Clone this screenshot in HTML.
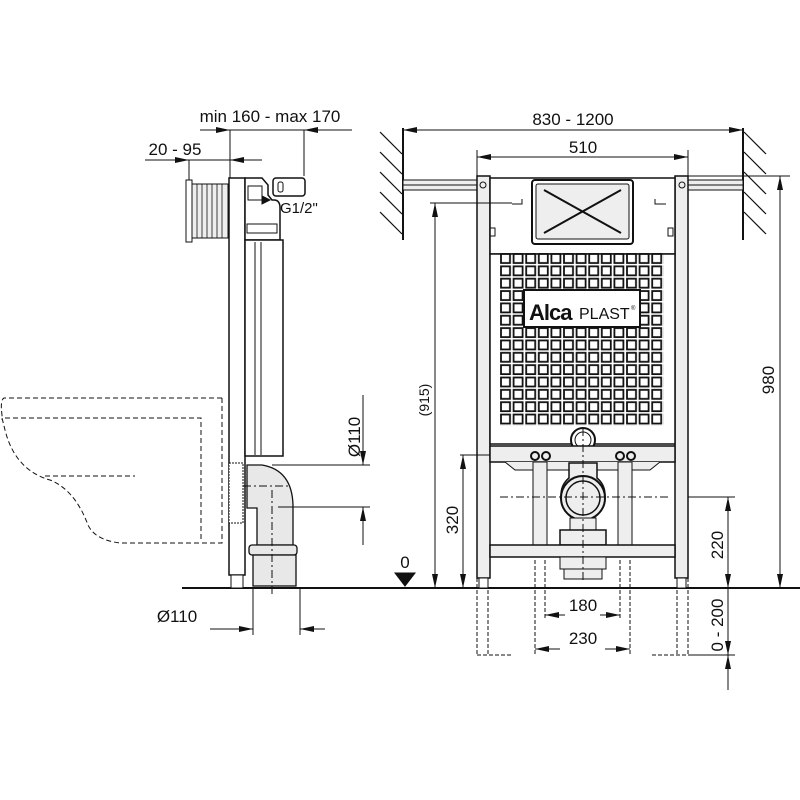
<!DOCTYPE html>
<html><head><meta charset="utf-8"><style>
body{margin:0;background:#fff}
svg{display:block}
text{font-family:"Liberation Sans",sans-serif;fill:#111}
</style></head><body>
<svg width="800" height="800" viewBox="0 0 800 800" xmlns="http://www.w3.org/2000/svg">
<defs>
<marker id="a" markerWidth="14" markerHeight="6" refX="14" refY="3" orient="auto" markerUnits="userSpaceOnUse"><path d="M0,0 L14,3 L0,6z" fill="#111"/></marker>
<pattern id="sq" x="500" y="253" width="12.6" height="12.35" patternUnits="userSpaceOnUse">
<rect x="1" y="1" width="9" height="9" fill="#fff" stroke="#111" stroke-width="1.8"/>
</pattern>
</defs>
<g stroke="#111" fill="none" stroke-width="1">
<line x1="182" y1="588" x2="800" y2="588" stroke-width="2"/>

<g stroke-dasharray="5,3" stroke-width="1">
<path d="M222,398 H4 Q0,400 2,415 V420 M222,398 V543 H120 Q95,540 88,525 Q75,490 50,480 Q15,470 5,430 L2,418"/>
<path d="M5,418 H201 V540"/>
<path d="M45,476 H135"/>
</g>
<rect x="186" y="180" width="6" height="62" fill="#fff"/>
<rect x="192" y="184" width="36" height="54" fill="#eee"/>
<g stroke-width="0.8"><line x1="197" y1="184" x2="197" y2="238"/><line x1="202" y1="184" x2="202" y2="238"/><line x1="207" y1="184" x2="207" y2="238"/><line x1="212" y1="184" x2="212" y2="238"/><line x1="217" y1="184" x2="217" y2="238"/><line x1="222" y1="184" x2="222" y2="238"/></g>
<rect x="229" y="178" width="16" height="397" fill="#fff" stroke-width="1.5"/>
<rect x="231" y="575" width="12" height="13" fill="#fff"/>
<path d="M245,178 H262 L268,185 V195 L272,200 H274 Q280,200 280,208 V240 H245z" fill="#fff" stroke-width="1.5"/>
<rect x="248" y="186" width="14" height="14" fill="#fff"/>
<rect x="247" y="224" width="30" height="9" fill="#fff"/>
<path d="M245,240 H283 V456 H245z" fill="#fff" stroke-width="1.5"/>
<line x1="255" y1="242" x2="255" y2="455"/><line x1="261" y1="242" x2="261" y2="455"/>
<rect x="273" y="178" width="32" height="18" rx="3" fill="#fff" stroke-width="1.5"/>
<rect x="278" y="182" width="5" height="10" rx="2"/>
<path d="M262,196 L270,200 L262,204z" fill="#111"/>
<rect x="229" y="463" width="14" height="60" fill="#fff" stroke-dasharray="2,1"/>
<path d="M247,465 H262 Q292,470 293,505 V545 H257 V508 H247z" fill="#e8e8e8" stroke-width="1.3"/>
<rect x="249" y="545" width="48" height="10" rx="3" fill="#e8e8e8" stroke-width="1.3"/>
<rect x="253" y="555" width="43" height="31" fill="#e8e8e8" stroke-width="1.3"/>
<line x1="243" y1="486" x2="290" y2="486" stroke-dasharray="8,3,2,3"/>
<line x1="272" y1="490" x2="272" y2="595" stroke-dasharray="8,3,2,3"/>
<line x1="230" y1="160" x2="230" y2="178"/><line x1="304" y1="130" x2="304" y2="176"/>
<line x1="230" y1="130" x2="230" y2="172"/>
<line x1="200" y1="130" x2="230" y2="130" marker-end="url(#a)"/>
<line x1="352" y1="130" x2="304" y2="130" marker-end="url(#a)"/>
<line x1="230" y1="130" x2="304" y2="130"/>
<line x1="145" y1="160" x2="189" y2="160" marker-end="url(#a)"/>
<line x1="262" y1="160" x2="230" y2="160" marker-end="url(#a)"/>
<line x1="189" y1="160" x2="230" y2="160"/><line x1="189" y1="160" x2="189" y2="180"/>
<line x1="272" y1="465" x2="370" y2="465"/><line x1="278" y1="507" x2="370" y2="507"/>
<line x1="363" y1="395" x2="363" y2="465" marker-end="url(#a)"/>
<line x1="363" y1="545" x2="363" y2="507" marker-end="url(#a)"/>
<line x1="253" y1="588" x2="253" y2="635"/><line x1="300" y1="588" x2="300" y2="635"/>
<line x1="210" y1="629" x2="253" y2="629" marker-end="url(#a)"/>
<line x1="325" y1="629" x2="300" y2="629" marker-end="url(#a)"/>

<line x1="403" y1="128" x2="403" y2="240" stroke-width="2"/>
<line x1="743" y1="128" x2="743" y2="240" stroke-width="2"/>
<g stroke-width="1.2">
<path d="M380,132 L402,154 M380,152 L402,174 M380,172 L402,194 M380,192 L402,214 M380,212 L402,234"/>
<path d="M744,132 L766,154 M744,152 L766,174 M744,172 L766,194 M744,192 L766,214 M744,212 L766,234"/>
</g>
<rect x="403" y="180" width="74" height="10" fill="#eee"/>
<line x1="403" y1="185" x2="477" y2="185"/>
<rect x="688" y="180" width="55" height="10" fill="#eee"/>
<line x1="688" y1="185" x2="743" y2="185"/>
<rect x="477" y="176" width="13" height="402" fill="#eee" stroke-width="1.5"/>
<rect x="675" y="176" width="13" height="402" fill="#eee" stroke-width="1.5"/>
<rect x="479" y="578" width="9" height="10" fill="#fff"/>
<rect x="677" y="578" width="9" height="10" fill="#fff"/>
<circle cx="483" cy="185" r="3"/><circle cx="682" cy="185" r="3"/>
<rect x="490" y="178" width="185" height="76" fill="#fff" stroke-width="1.5"/>
<rect x="532" y="180" width="101" height="64" rx="3" fill="#fff" stroke-width="2"/>
<rect x="536" y="184" width="93" height="55" rx="2" fill="#eee"/>
<path d="M544,190 L621,233 M621,190 L544,233" stroke-width="2"/>
<path d="M512,204 H522 V199 M655,199 V204 H666" />
<rect x="490" y="228" width="5" height="8"/><rect x="668" y="228" width="5" height="8"/>
<rect x="490" y="254" width="185" height="190" fill="#fff" stroke-width="1.5"/>
<rect x="500" y="253" width="163.8" height="172.9" fill="url(#sq)" stroke="none"/>
<rect x="524" y="290" width="116" height="37" fill="#fff" stroke-width="2"/>
<circle cx="583" cy="440" r="12" stroke-width="2" fill="#fff"/><circle cx="583" cy="440" r="8"/>
<rect x="490" y="446" width="185" height="16" fill="#eee" stroke-width="1.5"/>
<path d="M505,462 L515,470 H650 L660,462" fill="#eee"/>
<circle cx="535" cy="456" r="4" stroke-width="2"/><circle cx="546" cy="456" r="4" stroke-width="2"/>
<circle cx="620" cy="456" r="4" stroke-width="2"/><circle cx="631" cy="456" r="4" stroke-width="2"/>
<rect x="533" y="462" width="14" height="83" fill="#eee"/>
<rect x="618" y="462" width="14" height="83" fill="#eee"/>
<path d="M569,463 H597 V478 A22,22 0 1,1 569,478z" fill="#eee" stroke-width="1.5"/>
<circle cx="583" cy="498" r="22" fill="#eee" stroke-width="2"/>
<circle cx="583" cy="498" r="17" fill="#eee" stroke-width="1.5"/>
<rect x="570" y="518" width="26" height="12" fill="#eee"/>
<rect x="560" y="530" width="46" height="15" fill="#eee" stroke-width="1.5"/>
<rect x="490" y="545" width="185" height="12" fill="#eee" stroke-width="1.5"/>
<rect x="560" y="557" width="46" height="12" fill="#eee"/>
<rect x="564" y="569" width="38" height="10" fill="#eee"/>
<line x1="583" y1="428" x2="583" y2="580" stroke-dasharray="8,3,2,3"/>
<line x1="500" y1="497" x2="670" y2="497" stroke-dasharray="8,3,2,3"/>
<line x1="403" y1="130" x2="743" y2="130"/>
<line x1="440" y1="130" x2="403" y2="130" marker-end="url(#a)"/>
<line x1="706" y1="130" x2="743" y2="130" marker-end="url(#a)"/>
<line x1="477" y1="150" x2="477" y2="176"/><line x1="688" y1="150" x2="688" y2="176"/>
<line x1="477" y1="157" x2="688" y2="157"/>
<line x1="510" y1="157" x2="477" y2="157" marker-end="url(#a)"/>
<line x1="655" y1="157" x2="688" y2="157" marker-end="url(#a)"/>
<line x1="688" y1="176" x2="790" y2="176"/>
<line x1="780" y1="176" x2="780" y2="588"/>
<line x1="780" y1="210" x2="780" y2="176" marker-end="url(#a)"/>
<line x1="780" y1="555" x2="780" y2="588" marker-end="url(#a)"/>
<line x1="430" y1="203" x2="512" y2="203"/>
<line x1="435" y1="203" x2="435" y2="588"/>
<line x1="435" y1="240" x2="435" y2="203" marker-end="url(#a)"/>
<line x1="435" y1="555" x2="435" y2="588" marker-end="url(#a)"/>
<line x1="460" y1="455" x2="490" y2="455"/>
<line x1="463" y1="455" x2="463" y2="588"/>
<line x1="463" y1="490" x2="463" y2="455" marker-end="url(#a)"/>
<line x1="463" y1="555" x2="463" y2="588" marker-end="url(#a)"/>
<line x1="688" y1="497" x2="735" y2="497"/>
<line x1="728" y1="497" x2="728" y2="588"/>
<line x1="728" y1="530" x2="728" y2="497" marker-end="url(#a)"/>
<line x1="728" y1="555" x2="728" y2="588" marker-end="url(#a)"/>
<line x1="728" y1="588" x2="728" y2="690"/>
<line x1="688" y1="655" x2="735" y2="655"/>
<line x1="728" y1="620" x2="728" y2="655" marker-end="url(#a)"/>
<line x1="728" y1="688" x2="728" y2="655" marker-end="url(#a)"/>
<g stroke-dasharray="4,2">
<line x1="477" y1="578" x2="477" y2="655"/><line x1="488" y1="578" x2="488" y2="655"/>
<line x1="677" y1="578" x2="677" y2="655"/><line x1="688" y1="578" x2="688" y2="655"/>
<line x1="477" y1="655" x2="512" y2="655"/><line x1="652" y1="655" x2="688" y2="655"/>
<line x1="535" y1="560" x2="535" y2="655"/><line x1="545" y1="560" x2="545" y2="620"/>
<line x1="620" y1="560" x2="620" y2="620"/><line x1="630" y1="560" x2="630" y2="655"/>
</g>
<line x1="565" y1="615" x2="545" y2="615" marker-end="url(#a)"/>
<line x1="600" y1="615" x2="620" y2="615" marker-end="url(#a)"/>
<line x1="560" y1="649" x2="535" y2="649" marker-end="url(#a)"/>
<line x1="605" y1="649" x2="630" y2="649" marker-end="url(#a)"/>
<path d="M395,573 H415 L405,586z" fill="#111"/>
</g>
<text x="270" y="122" font-size="17" text-anchor="middle">min 160 - max 170</text>
<text x="175" y="155" font-size="17" text-anchor="middle">20 - 95</text>
<text x="280" y="213" font-size="15">G1/2"</text>
<text x="177" y="622" font-size="17" text-anchor="middle">Ø110</text>
<text transform="translate(360,437) rotate(-90)" font-size="17" text-anchor="middle">Ø110</text>
<text x="573" y="125" font-size="17" text-anchor="middle">830 - 1200</text>
<text x="583" y="153" font-size="17" text-anchor="middle">510</text>
<text x="405" y="568" font-size="17" text-anchor="middle">0</text>
<text transform="translate(429,400) rotate(-90)" font-size="14" text-anchor="middle">(915)</text>
<text transform="translate(458,520) rotate(-90)" font-size="17" text-anchor="middle">320</text>
<text transform="translate(774,380) rotate(-90)" font-size="17" text-anchor="middle">980</text>
<text transform="translate(723,545) rotate(-90)" font-size="17" text-anchor="middle">220</text>
<text transform="translate(723,625) rotate(-90)" font-size="17" text-anchor="middle">0 - 200</text>
<text x="583" y="611" font-size="17" text-anchor="middle">180</text>
<text x="583" y="644" font-size="17" text-anchor="middle">230</text>
<text x="529" y="320" font-size="22" font-weight="bold" letter-spacing="-1">Alca</text>
<text x="579" y="319" font-size="16">PLAST</text>
<text x="631" y="310" font-size="6">®</text>
</svg>
</body></html>
